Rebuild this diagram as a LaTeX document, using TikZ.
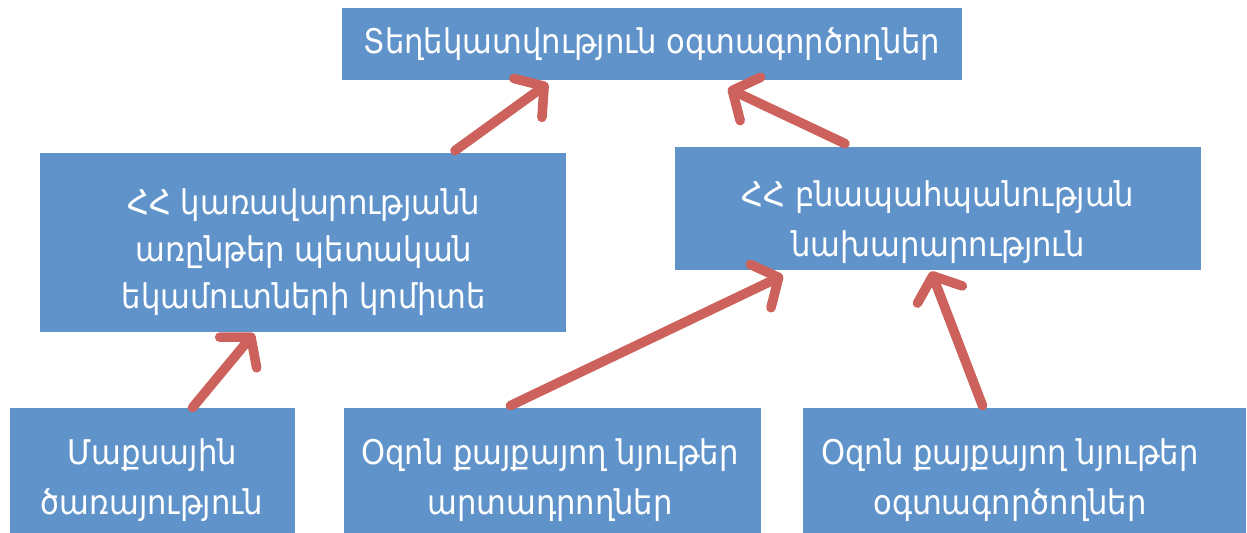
\documentclass[tikz,border=0pt]{standalone}
\usepackage{fontspec}
\setmainfont{DejaVu Sans Condensed}
\usetikzlibrary{arrows.meta}
\definecolor{boxblue}{RGB}{95,147,202}
\definecolor{arrred}{RGB}{205,98,92}
\tikzset{
  box/.style={fill=boxblue, draw=none, inner sep=0pt, anchor=center},
  lbl/.style={text=white, align=center, font=\fontsize{17}{25}\selectfont, inner sep=0pt},
  arr/.style={draw=arrred, line width=4.8pt, line cap=round,
    -{Straight Barb[length=10pt,width=24pt,round]}}
}
\begin{document}
\begin{tikzpicture}[x=0.5pt,y=-0.5pt]
\useasboundingbox (0,0) rectangle (1247,533);
% boxes
\node[box, minimum width=310pt, minimum height=36pt] (top) at (652,44) {};
\node[box, minimum width=263pt, minimum height=89.5pt] (govt) at (303,242.5) {};
\node[box, minimum width=263pt, minimum height=61.5pt] (env) at (938,208.5) {};
\node[box, minimum width=142.5pt, minimum height=62.5pt] (customs) at (152.5,470.5) {};
\node[box, minimum width=208.5pt, minimum height=62.5pt] (prod) at (552.5,470.5) {};
\node[box, minimum width=221.5pt, minimum height=62.5pt] (users) at (1024.5,470.5) {};
% labels
\node[lbl] (ttop) at (652,44) {Տեղեկատվություն օգտագործողներ};
\node[lbl, font=\fontsize{17}{23.5}\selectfont] (tgovt) at (304,252) {ՀՀ կառավարությանն\\առընթեր պետական\\եկամուտների կոմիտե};
\node[lbl] (tenv) at (938,222) {ՀՀ բնապահպանության\\նախարարություն};
\node[lbl] (tcustoms) at (152,480) {Մաքսային\\ծառայություն};
\node[lbl] (tprod) at (550,480) {Օզոն քայքայող նյութեր\\արտադրողներ};
\node[lbl] (tusers) at (1010,480) {Օզոն քայքայող նյութեր\\օգտագործողներ};
% arrows
\draw[arr] ([xshift=76pt,yshift=1pt]govt.north) -- ([xshift=-52pt,yshift=-1.5pt]top.south);
\draw[arr] ([xshift=-46.5pt,yshift=1.5pt]env.north) -- ([xshift=38pt,yshift=-4pt]top.south);
\draw[arr] ([xshift=20pt]customs.north) -- ([xshift=-24.5pt,yshift=-0.5pt]govt.south);
\draw[arr] ([xshift=-21pt,yshift=1pt]prod.north) -- ([xshift=-77.5pt,yshift=-2.5pt]env.south);
\draw[arr] ([xshift=-21pt,yshift=1pt]users.north) -- ([xshift=-3.5pt,yshift=-0.5pt]env.south);
\end{tikzpicture}
\end{document}
